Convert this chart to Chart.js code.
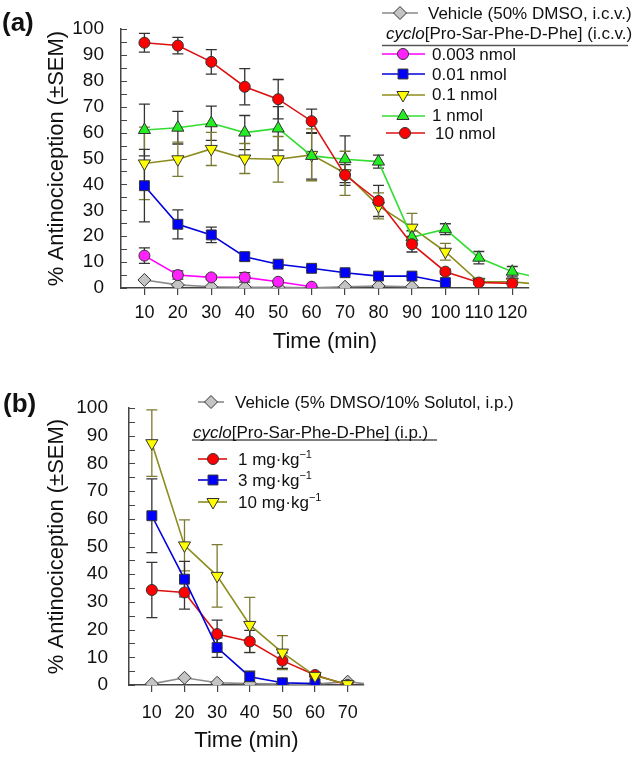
<!DOCTYPE html>
<html>
<head>
<meta charset="utf-8">
<title>cyclo[Pro-Sar-Phe-D-Phe] antinociception</title>
<script src="https://cdn.jsdelivr.net/npm/chart.js"></script>
<style>
  body { margin: 0; background: #fff; }
  #page { position: relative; width: 634px; height: 761px; font-family: "Liberation Sans", Arial, sans-serif; color: #111; }
  .panel { position: absolute; left: 0; width: 634px; }
  .panel canvas { position: absolute; left: 0; top: 0; }
  .txt { position: absolute; white-space: nowrap; line-height: 1; transform: translateY(-50%); font-size: 17px; }
  .tag { font-size: 26px; font-weight: bold; }
  sup { font-size: 11px; vertical-align: 0; position: relative; top: -7px; }
</style>
</head>
<body>
<div id="page">
  <div class="panel" id="panelA" style="top:0;height:360px">
    <canvas id="chartA" width="634" height="360"></canvas>
    <div class="txt tag" style="left:2px;top:22px">(a)</div>
    <div class="txt" style="left:428px;top:13px">Vehicle (50% DMSO, i.c.v.)</div>
    <div class="txt" style="left:386px;top:33px"><i>cyclo</i>[Pro-Sar-Phe-D-Phe] (i.c.v.)</div>
    <div class="txt" style="left:432px;top:54px">0.003 nmol</div>
    <div class="txt" style="left:432px;top:74px">0.01 nmol</div>
    <div class="txt" style="left:432px;top:94px">0.1 nmol</div>
    <div class="txt" style="left:432px;top:115px">1 nmol</div>
    <div class="txt" style="left:435px;top:133px">10 nmol</div>
  </div>
  <div class="panel" id="panelB" style="top:360px;height:401px">
    <canvas id="chartB" width="634" height="401"></canvas>
    <div class="txt tag" style="left:3px;top:43px">(b)</div>
    <div class="txt" style="left:235px;top:42px">Vehicle (5% DMSO/10% Solutol, i.p.)</div>
    <div class="txt" style="left:193px;top:72px"><i>cyclo</i>[Pro-Sar-Phe-D-Phe] (i.p.)</div>
    <div class="txt" style="left:238px;top:99px">1 mg·kg<sup>−1</sup></div>
    <div class="txt" style="left:238px;top:120px">3 mg·kg<sup>−1</sup></div>
    <div class="txt" style="left:238px;top:142px">10 mg·kg<sup>−1</sup></div>
  </div>
</div>
<script>
// ---------- panel (a): i.c.v. ----------
const timeA = [10, 20, 30, 40, 50, 60, 70, 80, 90, 100, 110, 120];
const tailTimeA = 125;
const vehicleA = [3.1, 1.2, 0.5, 0.3, 0.3, 0.1, 0.5, 0.8, 0.5];
const nmol0003 = [12.5, 5.0, 4.1, 4.1, 2.4, 0.5];
const nmol0003Sem = [3.0, 1.6, 0.8, 1.8, 0.5, 0.3];
const nmol001 = [39.5, 24.6, 20.5, 12.1, 9.2, 7.6, 5.9, 4.6, 4.6, 2.1];
const nmol001Sem = [14, 5.6, 3.0, 1.5, 0.8, 0.8, 0.6, 0.5, 0.5, 0.3];
const nmol01 = [48.1, 49.7, 53.7, 50.0, 49.7, 51.4, 44.3, 31.7, 23.3, 14.0, 2.4, 2.4];
const nmol01Sem = [14, 6.6, 6.4, 5.8, 8.8, 10, 8.5, 5.0, 5.5, 3.2, 0, 0];
const nmol01Tail = 1.8;
const nmol1 = [61.0, 61.9, 63.6, 60.0, 61.6, 51.0, 49.7, 48.8, 19.6, 22.7, 11.7, 6.3];
const nmol1Sem = [10, 6.3, 6.6, 6.6, 8.4, 9.0, 9.0, 2.5, 2.5, 2.1, 2.4, 2.0];
const nmol1Tail = 4.8;
const nmol10 = [94.7, 93.6, 87.3, 77.7, 72.9, 64.4, 43.6, 33.6, 16.9, 6.3, 2.1, 1.8];
const nmol10Sem = [3.6, 3.2, 4.7, 7.0, 7.6, 4.7, 4.0, 6.0, 3.0, 1.0, 0, 0];

// ---------- panel (b): i.p. ----------
const timeB = [10, 20, 30, 40, 50, 60, 70];
const tailTimeB = 75;
const vehicleB = [0.4, 2.6, 0.8, 0.5, 0.3, 0.3, 1.2];
const vehicleBTail = 0.5;
const mg1 = [34.3, 33.4, 18.4, 15.7, 8.8, 3.6, 0];
const mg1Sem = [10, 6.0, 5.0, 4.0, 2.8, 0.5, 0];
const mg3 = [61.1, 38.2, 13.5, 3.0, 0.8, 0.5];
const mg3Sem = [13.3, 6.4, 3.5, 2.0, 0.3, 0.2];
const mg10 = [87.3, 50.4, 39.4, 21.7, 11.7, 3.3, 0.3];
const mg10Sem = [12, 9.2, 11.3, 9.9, 6.1, 0.5, 0];

const yTicks = [0, 10, 20, 30, 40, 50, 60, 70, 80, 90, 100];

const FONT = '"Liberation Sans", Arial, sans-serif';
const AXIS = '#444';
const ERR = '#333';

const styles = {
  vehicle: { line: '#8a8a8a', fill: '#c4c4c4', shape: 'rectRot', r: 6.5, err: ERR },
  magenta: { line: '#ff00ff', fill: '#ff22ff', shape: 'circle', r: 5.5, err: ERR },
  blue:    { line: '#0000dd', fill: '#0000ff', shape: 'rect', r: 7, err: ERR },
  yellow:  { line: '#8c8c1e', fill: '#ffff00', shape: 'triangle', rot: 180, r: 7, err: '#7a7a30' },
  green:   { line: '#33dd33', fill: '#22ee22', shape: 'triangle', r: 7, err: ERR },
  red:     { line: '#dd1111', fill: '#ff0000', shape: 'circle', r: 5.5, err: ERR }
};

function series(label, times, vals, sem, st, tailX, tailY) {
  const data = vals.map((v, i) => ({ x: times[i], y: v }));
  const radius = vals.map(() => st.r);
  if (tailX !== undefined) { data.push({ x: tailX, y: tailY }); radius.push(0); }
  return {
    label, data, sem, errColor: st.err,
    borderColor: st.line, borderWidth: 1.6,
    pointStyle: st.shape, pointRotation: st.rot || 0, pointRadius: radius,
    pointBackgroundColor: st.fill, pointBorderColor: '#333', pointBorderWidth: 1,
    fill: false, tension: 0
  };
}

// error bars drawn under the markers, through the chart scales
const errorBars = {
  id: 'errorBars',
  beforeDatasetsDraw(chart) {
    const { ctx, scales: { x, y } } = chart;
    chart.data.datasets.forEach(ds => {
      if (!ds.sem) return;
      ctx.save();
      ctx.strokeStyle = ds.errColor;
      ctx.lineWidth = 1.3;
      ds.sem.forEach((e, j) => {
        if (!e) return;
        const p = ds.data[j];
        const px = x.getPixelForValue(p.x);
        const t = y.getPixelForValue(p.y + e), b = y.getPixelForValue(p.y - e);
        ctx.beginPath();
        ctx.moveTo(px, t); ctx.lineTo(px, b);
        ctx.moveTo(px - 5.5, t); ctx.lineTo(px + 5.5, t);
        ctx.moveTo(px - 5.5, b); ctx.lineTo(px + 5.5, b);
        ctx.stroke();
      });
      ctx.restore();
    });
  }
};

// inward y ticks every 5, plus the legend keys
const extras = {
  id: 'extras',
  afterDraw(chart, args, opts) {
    const { ctx, scales: { y } } = chart;
    ctx.save();
    ctx.strokeStyle = AXIS;
    ctx.lineWidth = 1.2;
    ctx.beginPath();
    for (let v = 0; v <= 100; v += 5) {
      const py = Math.round(y.getPixelForValue(v)) + 0.5;
      ctx.moveTo(y.right, py); ctx.lineTo(y.right + 6, py);
    }
    ctx.stroke();
    (opts.rules || []).forEach(r => {
      ctx.beginPath(); ctx.lineWidth = 1.5; ctx.strokeStyle = '#555';
      ctx.moveTo(r.x1, r.y); ctx.lineTo(r.x2, r.y); ctx.stroke();
    });
    (opts.keys || []).forEach(k => {
      const st = styles[k.s];
      ctx.beginPath(); ctx.lineWidth = 1.6; ctx.strokeStyle = st.line;
      ctx.moveTo(k.x1, k.y); ctx.lineTo(k.x2, k.y); ctx.stroke();
      ctx.fillStyle = st.fill; ctx.strokeStyle = '#333'; ctx.lineWidth = 1;
      Chart.helpers.drawPoint(ctx, { pointStyle: st.shape, rotation: st.rot || 0, radius: st.r, borderWidth: 1 }, k.mx, k.y);
    });
    ctx.restore();
  }
};

function makeChart(id, datasets, L) {
  return new Chart(document.getElementById(id), {
    type: 'line',
    data: { datasets },
    plugins: [errorBars, extras],
    options: {
      responsive: false, animation: false,
      layout: { padding: { left: 0, top: L.top, right: L.W - L.right, bottom: 0 } },
      plugins: { legend: { display: false }, tooltip: { enabled: false }, extras: { keys: L.keys, rules: L.rules } },
      scales: {
        x: {
          type: 'linear', min: L.xMin, max: L.xMax,
          afterBuildTicks: s => { s.ticks = L.xTicks.map(v => ({ value: v })); },
          afterFit: s => { s.height = L.H - L.bottom; },
          grid: { display: true, drawOnChartArea: false, drawTicks: true, tickLength: 7, color: AXIS, lineWidth: 1.2 },
          border: { display: true, color: AXIS, width: 1.5 },
          ticks: { autoSkip: false, maxRotation: 0, color: '#111', padding: L.padX, font: { family: FONT, size: 18 } },
          title: { display: true, text: 'Time (min)', color: '#111', font: { family: FONT, size: 22 }, padding: { top: 0, bottom: L.titleX } }
        },
        y: {
          min: 0, max: 100,
          afterBuildTicks: s => { s.ticks = yTicks.map(v => ({ value: v })); },
          afterFit: s => { s.width = L.left; },
          grid: { display: false },
          border: { display: true, color: AXIS, width: 1.5 },
          ticks: { autoSkip: false, color: '#111', padding: L.padY, font: { family: FONT, size: 19 } },
          title: { display: true, text: '% Antinociception (±SEM)', color: '#111', font: { family: FONT, size: 22 }, padding: { top: L.titleY, bottom: 0 } }
        }
      }
    }
  });
}

makeChart('chartA', [
  series('10 nmol', timeA, nmol10, nmol10Sem, styles.red),
  series('1 nmol', timeA, nmol1, nmol1Sem, styles.green, tailTimeA, nmol1Tail),
  series('0.1 nmol', timeA, nmol01, nmol01Sem, styles.yellow, tailTimeA, nmol01Tail),
  series('0.01 nmol', timeA, nmol001, nmol001Sem, styles.blue),
  series('0.003 nmol', timeA, nmol0003, nmol0003Sem, styles.magenta),
  series('Vehicle (50% DMSO, i.c.v.)', timeA, vehicleA, null, styles.vehicle)
], {
  W: 634, H: 360, left: 121, right: 529, top: 29, bottom: 288,
  xMin: 3, xMax: 125, xTicks: timeA, padX: 7, padY: 9, titleX: 5, titleY: 44,
  rules: [{ x1: 382, x2: 628, y: 45.5 }],
  keys: [
    { s: 'vehicle', x1: 382, x2: 418, mx: 400, y: 13 },
    { s: 'magenta', x1: 382, x2: 425, mx: 403, y: 54 },
    { s: 'blue', x1: 382, x2: 425, mx: 403, y: 74 },
    { s: 'yellow', x1: 382, x2: 425, mx: 403, y: 95 },
    { s: 'green', x1: 382, x2: 425, mx: 403, y: 116 },
    { s: 'red', x1: 386, x2: 425, mx: 405, y: 133 }
  ]
});

makeChart('chartB', [
  series('10 mg·kg−1', timeB, mg10, mg10Sem, styles.yellow),
  series('3 mg·kg−1', timeB, mg3, mg3Sem, styles.blue),
  series('1 mg·kg−1', timeB, mg1, mg1Sem, styles.red),
  series('Vehicle (5% DMSO/10% Solutol, i.p.)', timeB, vehicleB, null, styles.vehicle, tailTimeB, vehicleBTail)
], {
  W: 634, H: 401, left: 129, right: 364, top: 48, bottom: 325,
  xMin: 3, xMax: 75, xTicks: timeB, padX: 10, padY: 13, titleX: 7, titleY: 44,
  rules: [{ x1: 192, x2: 437, y: 80 }],
  keys: [
    { s: 'vehicle', x1: 198, x2: 224, mx: 211, y: 42 },
    { s: 'red', x1: 198, x2: 227, mx: 213, y: 99 },
    { s: 'blue', x1: 198, x2: 227, mx: 213, y: 120 },
    { s: 'yellow', x1: 198, x2: 227, mx: 213, y: 142 }
  ]
});
</script>
</body>
</html>
